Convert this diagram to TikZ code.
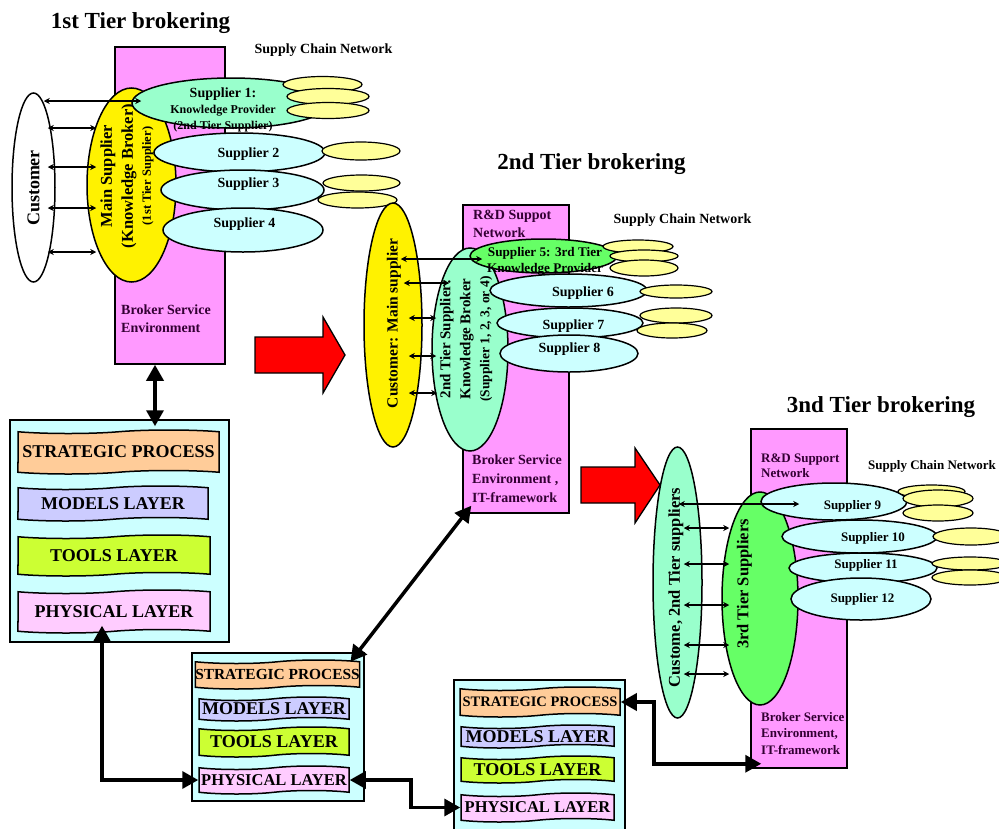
\documentclass[tikz,border=0pt]{standalone}
\usepackage{fontspec}
\setmainfont{Liberation Serif}
\usetikzlibrary{shapes.geometric,shapes.symbols,arrows.meta}
\definecolor{brokerpink}{RGB}{255,153,255}
\definecolor{palecyan}{RGB}{204,255,255}
\definecolor{mint}{RGB}{153,255,204}
\definecolor{leaf}{RGB}{102,255,102}
\definecolor{paleyellow}{RGB}{255,255,153}
\definecolor{apricot}{RGB}{255,204,153}
\definecolor{lavender}{RGB}{204,204,255}
\definecolor{lime}{RGB}{204,255,51}
\definecolor{rosy}{RGB}{255,204,255}
\definecolor{inkpurple}{RGB}{51,0,51}
\newcommand{\setsz}[2]{\fontsize{#1}{#2}\selectfont}

\tikzset{
  ell/.style={ellipse, draw=black, line width=1.5pt, fill=#1, inner sep=0pt},
  pod/.style={ellipse, draw=black, line width=1.2pt, fill=paleyellow, inner sep=0pt},
  envbox/.style={rectangle, draw=black, line width=1.5pt, fill=brokerpink, inner sep=0pt},
  stackbox/.style={rectangle, draw=black, line width=1.5pt, fill=palecyan, inner sep=0pt},
  layer/.style={tape, draw=black, line width=1.5pt, fill=#1, inner sep=0pt, tape bend height=3.5pt},
  title/.style={font=\bfseries\setsz{23}{27}, inner sep=0pt},
  net/.style={font=\bfseries\setsz{14}{16}, inner sep=0pt},
  txt/.style={font=\bfseries\setsz{14}{16}, inner sep=0pt},
  envtxt/.style={font=\bfseries\setsz{14}{18}, text=inkpurple, align=left, anchor=west, inner sep=0pt},
  vtxt/.style={font=\bfseries\setsz{16}{20}, rotate=90, align=center, inner sep=0pt},
  link/.style={line width=1.3pt, {Stealth[length=6pt,width=6pt]}-{Stealth[length=6pt,width=6pt]}},
  bigarrow/.style={line width=3.5pt, {Triangle[length=16pt,width=17pt]}-{Triangle[length=16pt,width=17pt]}},
  blockarrow/.style={draw=black, line width=1.3pt, fill=red},
}

\begin{document}
\begin{tikzpicture}[x=1pt, y=-1pt]
	\useasboundingbox (0,0) rectangle (999,828);

	% 1st tier
	\node[title] (tier1) at (140.5,23) {1st Tier brokering};
	\node[net] (scn1) at (323.5,50) {Supply Chain Network};

	\node[envbox, minimum width=110, minimum height=317] (env1) at (170,205.5) {};
	\node[envtxt] (env1txt) at (121,319) {Broker Service\\Environment};

	\node[ell=white, minimum width=43, minimum height=189] (cust) at (33.5,187.5) {};
	\node[vtxt, font=\bfseries\setsz{18}{20}] (custtxt) at (33.5,188) {Customer};

	\node[ell=yellow, minimum width=89, minimum height=194] (ms1) at (131.5,185) {};
	\node[vtxt, font=\bfseries\setsz{16.5}{21}] (ms1txt) at (127,176) {Main Supplier\\(Knowledge Broker)\\[-3pt]{\setsz{12.5}{14}(1st Tier Supplier)}};

	\node[ell=mint, minimum width=198, minimum height=50] (s1) at (231,103) {};
	\node[pod, minimum width=79, minimum height=16] (p1a) at (322.5,84.5) {};
	\node[pod, minimum width=82, minimum height=16] (p1b) at (328,96.5) {};
	\node[pod, minimum width=82, minimum height=16] (p1c) at (328,110.5) {};
	\node[txt, align=center, font=\bfseries\setsz{12}{16}] (s1txt) at (223,110) {{\setsz{14}{16}Supplier 1:}\\Knowledge Provider\\(2nd Tier Supplier)};

	\node[ell=palecyan, minimum width=171, minimum height=39] (s2) at (239.5,152.5) {};
	\node[pod, minimum width=78, minimum height=18] (p2) at (361,151) {};
	\node[txt, anchor=base] (s2txt) at (248.5,157) {Supplier 2};

	\node[ell=palecyan, minimum width=163, minimum height=40] (s3) at (242.5,190) {};
	\node[pod, minimum width=77, minimum height=16] (p3a) at (361.5,183) {};
	\node[pod, minimum width=79, minimum height=16] (p3b) at (357.5,200) {};
	\node[txt, anchor=base] (s3txt) at (248.5,187) {Supplier 3};

	\node[ell=palecyan, minimum width=160, minimum height=44] (s4) at (243,230) {};
	\node[txt, anchor=base] (s4txt) at (244.5,227) {Supplier 4};

	\draw[blockarrow] (255,337) -- (323,337) -- (323,317) -- (345,355) -- (323,393) -- (323,373) -- (255,373) -- cycle;

	% layer stack 1
	\node[stackbox, minimum width=219, minimum height=222] (lay1) at (119.5,531) {};
	\node[layer=apricot, minimum width=201, minimum height=44, font=\bfseries\setsz{18}{20}] (l1strat) at (118.5,452) {STRATEGIC PROCESS};
	\node[layer=lavender, minimum width=190, minimum height=35, font=\bfseries\setsz{18}{20}] (l1model) at (113,503.5) {MODELS LAYER};
	\node[layer=lime, minimum width=192, minimum height=41, font=\bfseries\setsz{18}{20}] (l1tool) at (114,555.5) {TOOLS LAYER};
	\node[layer=rosy, minimum width=192, minimum height=43, font=\bfseries\setsz{18}{20}] (l1phys) at (114,611.5) {PHYSICAL LAYER};

	% layer stack 2
	\node[stackbox, minimum width=172, minimum height=148] (lay2) at (278,727) {};
	\node[layer=apricot, minimum width=159, minimum height=29, font=\bfseries\setsz{15.4}{17}] (l2strat) at (277.5,674.5) {STRATEGIC PROCESS};
	\node[layer=lavender, minimum width=150, minimum height=24, font=\bfseries\setsz{18}{19}] (l2model) at (274,709) {MODELS LAYER};
	\node[layer=lime, minimum width=150, minimum height=30, font=\bfseries\setsz{18}{19}] (l2tool) at (274,742) {TOOLS LAYER};
	\node[layer=rosy, minimum width=150, minimum height=28, font=\bfseries\setsz{16.5}{18}] (l2phys) at (274,780) {PHYSICAL LAYER};

	% layer stack 3
	\node[stackbox, minimum width=171, minimum height=160] (lay3) at (539.5,760) {};
	\node[layer=apricot, minimum width=160, minimum height=30, font=\bfseries\setsz{14.5}{17}] (l3strat) at (540,702) {STRATEGIC PROCESS};
	\node[layer=lavender, minimum width=153, minimum height=23, font=\bfseries\setsz{18}{19}] (l3model) at (537.5,736.5) {MODELS LAYER};
	\node[layer=lime, minimum width=153, minimum height=27, font=\bfseries\setsz{18}{19}] (l3tool) at (537.5,769.5) {TOOLS LAYER};
	\node[layer=rosy, minimum width=153, minimum height=29, font=\bfseries\setsz{16.5}{18}] (l3phys) at (537.5,807.5) {PHYSICAL LAYER};

	% 2nd tier
	\node[title] (tier2) at (591.5,164) {2nd Tier brokering};
	\node[net] (scn2) at (682.5,220) {Supply Chain Network};

	\node[envbox, minimum width=106, minimum height=308] (env2) at (516,359) {};
	\node[envtxt, font=\bfseries\setsz{14}{17.5}] (rd2txt) at (473,224) {R\&D Suppot\\Network};
	\node[envtxt, font=\bfseries\setsz{14}{19}] (env2txt) at (472,479) {Broker Service\\Environment ,\\IT-framework};

	\node[ell=yellow, minimum width=58, minimum height=244] (cm2) at (393,325) {};
	\node[vtxt, font=\bfseries\setsz{15.5}{18}] (cm2txt) at (394,323.5) {Customer: Main supplier};

	\node[ell=mint, minimum width=76, minimum height=203] (kb2) at (470,349.5) {};
	\node[vtxt, font=\bfseries\setsz{15}{20}] (kb2txt) at (466,339) {2nd Tier Supplier:\\Knowledge Broker\\[-1pt]{\setsz{13.5}{14}(Supplier 1, 2, 3, or 4)}};

	\node[ell=leaf, minimum width=147, minimum height=34] (s5) at (543.5,256) {};
	\node[pod, minimum width=70, minimum height=13] (p5a) at (638,246.5) {};
	\node[pod, minimum width=68, minimum height=12] (p5b) at (644,256) {};
	\node[pod, minimum width=68, minimum height=16] (p5c) at (644,268) {};
	\node[txt, align=center, font=\bfseries\setsz{13.2}{16}] (s5txt) at (545,261) {Supplier 5: 3rd Tier\\Knowledge Provider};

	\node[ell=palecyan, minimum width=157, minimum height=33] (s6) at (568.5,290.5) {};
	\node[pod, minimum width=72, minimum height=13] (p6) at (676,291.5) {};
	\node[txt, anchor=base] (s6txt) at (583,296) {Supplier 6};

	\node[ell=palecyan, minimum width=146, minimum height=30] (s7) at (570,323) {};
	\node[pod, minimum width=72, minimum height=15] (p7a) at (676,315.5) {};
	\node[pod, minimum width=70, minimum height=15] (p7b) at (672,330.5) {};
	\node[txt, anchor=base] (s7txt) at (573.5,329) {Supplier 7};

	\node[ell=palecyan, minimum width=138, minimum height=37] (s8) at (569,353.5) {};
	\node[txt, anchor=base] (s8txt) at (569.5,352) {Supplier 8};

	\draw[blockarrow] (581,467) -- (635,467) -- (635,448) -- (660,485) -- (635,523) -- (635,503) -- (581,503) -- cycle;

	% 3rd tier
	\node[title] (tier3) at (881,407) {3nd Tier brokering};
	\node[net, font=\bfseries\setsz{13}{15}] (scn3) at (932,466) {Supply Chain Network};

	\node[envbox, minimum width=96, minimum height=339] (env3) at (799,598.5) {};
	\node[envtxt, font=\bfseries\setsz{13}{15}] (rd3txt) at (761,465.5) {R\&D Support\\Network};
	\node[envtxt, font=\bfseries\setsz{13}{16.5}] (env3txt) at (761,733.5) {Broker Service\\Environment,\\IT-framework};

	\node[ell=mint, minimum width=49, minimum height=271] (cs3) at (677.5,582.5) {};
	\node[vtxt, font=\bfseries\setsz{16.5}{18}] (cs3txt) at (676,587.5) {Custome, 2nd Tier suppliers};

	\node[ell=leaf, minimum width=76, minimum height=213] (ts3) at (760,598.5) {};
	\node[vtxt, font=\bfseries\setsz{16.5}{18}] (ts3txt) at (744.5,584) {3rd Tier Suppliers};

	\node[ell=palecyan, minimum width=146, minimum height=37] (s9) at (834,501.5) {};
	\node[pod, minimum width=67, minimum height=13] (p9a) at (931.5,491.5) {};
	\node[pod, minimum width=70, minimum height=17] (p9b) at (938,498.5) {};
	\node[pod, minimum width=70, minimum height=16] (p9c) at (938,513) {};
	\node[txt, anchor=base, font=\bfseries\setsz{13}{15}] (s9txt) at (852.5,509) {Supplier 9};

	\node[ell=palecyan, minimum width=155, minimum height=33] (s10) at (859.5,536.5) {};
	\node[pod, minimum width=76, minimum height=17] (p10) at (971,536.5) {};
	\node[txt, anchor=base, font=\bfseries\setsz{13}{15}] (s10txt) at (873,541) {Supplier 10};

	\node[ell=palecyan, minimum width=148, minimum height=30] (s11) at (863,568) {};
	\node[pod, minimum width=76, minimum height=13] (p11a) at (970,563.5) {};
	\node[pod, minimum width=76, minimum height=15] (p11b) at (970,577.5) {};
	\node[txt, anchor=base, font=\bfseries\setsz{13}{15}] (s11txt) at (866,568) {Supplier 11};

	\node[ell=palecyan, minimum width=140, minimum height=42] (s12) at (861,599) {};
	\node[txt, anchor=base, font=\bfseries\setsz{13}{15}] (s12txt) at (862.5,602) {Supplier 12};

	% small links
	\draw[link, shorten <=-12pt, shorten >=-10pt] (cust.east |- 0,101) -- (s1.west |- 0,101);
	\foreach \y in {128,167,208,252}
		\draw[link, shorten <=-8pt, shorten >=-10pt] (cust.east |- 0,\y) -- (ms1.west |- 0,\y);

	\draw[link, shorten <=-22pt, shorten >=-13pt] (cm2.east |- 0,259) -- (s5.west |- 0,259);
	\draw[link, shorten <=-19pt, shorten >=-18pt] (cm2.east |- 0,283) -- (kb2.west |- 0,283);
	\foreach \y/\e in {318/-5pt,356/-5pt,393/-6pt}
		\draw[link, shorten <=-14pt, shorten >=\e] (cm2.east |- 0,\y) -- (kb2.west |- 0,\y);

	\draw[link, shorten <=-24pt, shorten >=-39pt] (cs3.east |- 0,504) -- (s9.west |- 0,504);
	\foreach \y in {528,564,605,645,674}
		\draw[link, shorten <=-19pt, shorten >=-8pt] (cs3.east |- 0,\y) -- (ts3.west |- 0,\y);

	% thick links
	\draw[bigarrow] ([xshift=-15pt]env1.south) -- ([xshift=35.5pt,yshift=-7pt]lay1.north);
	\draw[bigarrow] ([shift={(-12,-6)}]l1phys.south) |- (l2phys.west);
	\draw[bigarrow] ([xshift=-10pt]l2strat.north east) -- ([shift={(9,-8)}]env2.south west);
	\draw[bigarrow] (l2phys.east) -- ++(61,0) |- (l3phys.west);
	\draw[bigarrow] (l3strat.east) -- ++(33,0) |- ([shift={(11,-5)}]env3.south west);

\end{tikzpicture}
\end{document}
